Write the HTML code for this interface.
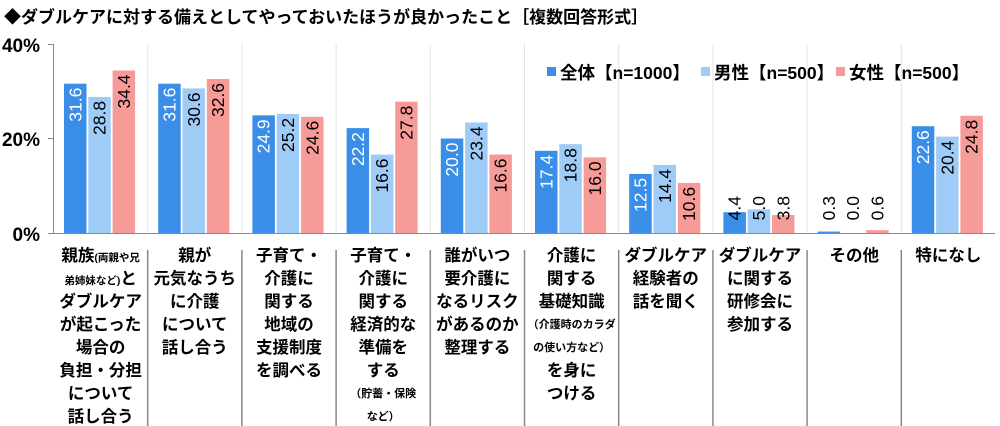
<!DOCTYPE html>
<html><head><meta charset="utf-8"><style>
body{margin:0;background:#fff;}
svg{display:block;font-family:"Liberation Sans","Noto Sans CJK JP",sans-serif;}
.l{font-size:16.5px;font-weight:bold;fill:#000;text-anchor:middle;}
.s{font-size:11px;font-weight:bold;fill:#000;text-anchor:middle;}
</style></head><body>
<svg width="1000" height="426" viewBox="0 0 1000 426" xmlns="http://www.w3.org/2000/svg">
<text x="4" y="23" font-size="17" font-weight="bold">◆ダブルケアに対する備えとしてやっておいたほうが良かったこと［複数回答形式］</text>
<g font-size="19" font-weight="bold" text-anchor="end">
<text x="40" y="52">40%</text><text x="40" y="146">20%</text><text x="40" y="241">0%</text></g>
<g id="grid" stroke="#e4e4e4" stroke-width="1"></g>
<g id="bars"></g>
<line x1="53.5" y1="44" x2="53.5" y2="233" stroke="#888"/>
<line x1="48" y1="44.5" x2="53" y2="44.5" stroke="#888"/>
<line x1="48" y1="138.5" x2="53" y2="138.5" stroke="#888"/>
<line x1="48" y1="233.5" x2="995" y2="233.5" stroke="#888"/>
<g id="seps" stroke="#888" stroke-width="1.5"></g>
<g id="labs"></g>
<rect x="547" y="67" width="9" height="9" fill="#3a8ee8"/>
<rect x="701" y="67" width="9" height="9" fill="#9fcbf7"/>
<rect x="836" y="67" width="9" height="9" fill="#f79b99"/>
<g font-size="17.5" font-weight="bold"><text x="560" y="79">全体【n=1000】</text><text x="714" y="79">男性【n=500】</text><text x="849" y="79">女性【n=500】</text></g>
</svg>
<script>
const d=[[31.6,28.8,34.4],[31.6,30.6,32.6],[24.9,25.2,24.6],[22.2,16.6,27.8],[20.0,23.4,16.6],[17.4,18.8,16.0],[12.5,14.4,10.6],[4.4,5.0,3.8],[0.3,0.0,0.6],[22.6,20.4,24.8]];
const L=[
[["親族","(両親や兄"],["弟姉妹など)","と"],"ダブルケア","が起こった","場合の","負担・分担","について","話し合う"],
["親が","元気なうち","に介護","について","話し合う"],
["子育て・","介護に","関する","地域の","支援制度","を調べる"],
["子育て・","介護に","関する","経済的な","準備を","する",{s:"（貯蓄・保険"},{s:"など）"}],
["誰がいつ","要介護に","なるリスク","があるのか","整理する"],
["介護に","関する","基礎知識",{s:"（介護時のカラダ"},{s:"の使い方など）"},"を身に","つける"],
["ダブルケア","経験者の","話を聞く"],
["ダブルケア","に関する","研修会に","参加する"],
["その他"],["特になし"]];
const C=["#3a8ee8","#9fcbf7","#f79b99"];
const ns="http://www.w3.org/2000/svg";
function el(p,t,a,tx){const e=document.createElementNS(ns,t);for(const k in a)e.setAttribute(k,a[k]);if(tx!=null)e.textContent=tx;document.getElementById(p).appendChild(e);return e;}
const W=94.2,x0=53.5,y0=233,k=4.725;
for(let i=0;i<10;i++){
 const gx=x0+i*W;
 if(i>0){el("grid","line",{x1:gx,y1:44,x2:gx,y2:233});el("seps","line",{x1:gx,y1:250,x2:gx,y2:426});}
 for(let j=0;j<3;j++){
  const bx=gx+10.5+j*24.3,h=d[i][j]*k,top=y0-h;
  el("bars","rect",{x:bx,y:top,width:22.5,height:h,fill:C[j]});
  const cx=bx+11.25;let ty=top+4;if(d[i][j]<6)ty=196;
  el("bars","text",{x:0,y:0,transform:`translate(${cx},${ty}) rotate(-90)`,"text-anchor":"end","dominant-baseline":"central","font-size":"17.5",fill:j==0&&d[i][j]>=6?"#fff":"#000"},d[i][j].toFixed(1));
 }
 let y=261;const cx=gx+W/2;
 L[i].forEach(line=>{
  if(Array.isArray(line)){const t=el("labs","text",{x:cx,y:y,class:"l"});
   line.forEach((p,q)=>{const s=document.createElementNS(ns,"tspan");s.textContent=p;if((i==0&&q==1&&y==261)||(i==0&&q==0&&y>261)){s.setAttribute("font-size","10.5");}t.appendChild(s);});}
  else if(typeof line=="object")el("labs","text",{x:cx,y:y-2,class:"s"},line.s);
  else el("labs","text",{x:cx,y:y,class:"l"},line);
  y+=23;});
}
</script>
</body></html>
